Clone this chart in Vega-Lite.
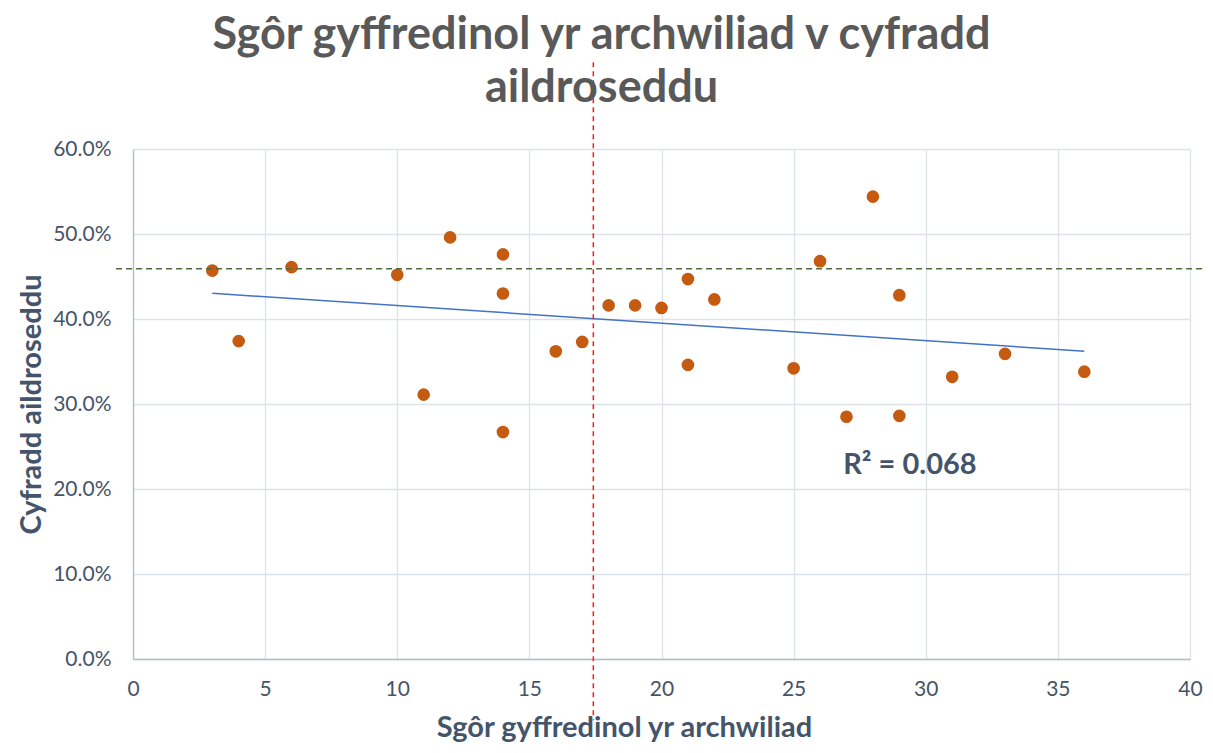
{
  "$schema": "https://vega.github.io/schema/vega-lite/v6.json",
  "width": 1057,
  "height": 510,
  "autosize": {"type": "none"},
  "padding": {"left": 133, "top": 149, "right": 23, "bottom": 94},
  "background": "white",
  "config": {
    "font": "Lato",
    "view": {"stroke": null}
  },
  "title": {
    "text": ["Sgôr gyffredinol yr archwiliad v cyfradd", "aildroseddu"],
    "fontSize": 45,
    "fontWeight": "bold",
    "color": "#595959",
    "lineHeight": 53,
    "anchor": "middle",
    "frame": "group",
    "dx": -60,
    "offset": -49
  },
  "data": {
    "values": [
      {"score": 3, "rate": 0.457},
      {"score": 4, "rate": 0.374},
      {"score": 6, "rate": 0.461},
      {"score": 10, "rate": 0.452},
      {"score": 11, "rate": 0.311},
      {"score": 12, "rate": 0.496},
      {"score": 14, "rate": 0.476},
      {"score": 14, "rate": 0.430},
      {"score": 14, "rate": 0.267},
      {"score": 16, "rate": 0.362},
      {"score": 17, "rate": 0.373},
      {"score": 18, "rate": 0.416},
      {"score": 19, "rate": 0.416},
      {"score": 20, "rate": 0.413},
      {"score": 21, "rate": 0.447},
      {"score": 21, "rate": 0.346},
      {"score": 22, "rate": 0.423},
      {"score": 25, "rate": 0.342},
      {"score": 26, "rate": 0.468},
      {"score": 27, "rate": 0.285},
      {"score": 28, "rate": 0.544},
      {"score": 29, "rate": 0.428},
      {"score": 29, "rate": 0.286},
      {"score": 31, "rate": 0.332},
      {"score": 33, "rate": 0.359},
      {"score": 36, "rate": 0.338}
    ]
  },
  "layer": [
    {
      "mark": {"type": "circle", "size": 160, "color": "#C55A11", "opacity": 1},
      "encoding": {
        "x": {
          "field": "score",
          "type": "quantitative",
          "scale": {"domain": [0, 40], "nice": false},
          "axis": {
            "values": [0, 5, 10, 15, 20, 25, 30, 35, 40],
            "title": "Sgôr gyffredinol yr archwiliad",
            "titleFontSize": 29,
            "titleFontWeight": "bold",
            "titleColor": "#44546A",
            "titlePadding": 14,
            "titleX": 491,
            "titleAlign": "center",
            "labelFontSize": 21,
            "labelColor": "#44546A",
            "labelPadding": 19,
            "labelFlush": false,
            "ticks": false,
            "grid": true,
            "gridColor": "#DDE1E8",
            "gridWidth": 1.3,
            "domainColor": "#B4BCCB",
            "domainWidth": 1.3
          }
        },
        "y": {
          "field": "rate",
          "type": "quantitative",
          "scale": {"domain": [0, 0.6], "nice": false},
          "axis": {
            "values": [0, 0.1, 0.2, 0.3, 0.4, 0.5, 0.6],
            "format": ".1%",
            "title": "Cyfradd aildroseddu",
            "titleFontSize": 29,
            "titleFontWeight": "bold",
            "titleColor": "#44546A",
            "titlePadding": 6,
            "labelFontSize": 21,
            "labelColor": "#44546A",
            "labelPadding": 22,
            "labelFlush": false,
            "ticks": false,
            "grid": true,
            "gridColor": "#DDE1E8",
            "gridWidth": 1.3,
            "domainColor": "#B4BCCB",
            "domainWidth": 1.3
          }
        }
      }
    },
    {
      "transform": [
        {"regression": "rate", "on": "score", "extent": [3, 36]}
      ],
      "mark": {"type": "line", "color": "#4472C4", "strokeWidth": 1.5},
      "encoding": {
        "x": {"field": "score", "type": "quantitative"},
        "y": {"field": "rate", "type": "quantitative"}
      }
    },
    {
      "data": {"values": [{"line": "horizontal"}]},
      "mark": {"type": "rule", "color": "#4E6B3C", "strokeWidth": 1.5, "strokeDash": [6, 4]},
      "encoding": {
        "x": {"datum": -0.64},
        "x2": {"datum": 40.57},
        "y": {"datum": 0.459}
      }
    },
    {
      "data": {"values": [{"line": "vertical"}]},
      "mark": {"type": "rule", "color": "#FF1A1A", "strokeWidth": 1.5, "strokeDash": [5, 4]},
      "encoding": {
        "x": {"datum": 17.42},
        "y": {"datum": 0.702},
        "y2": {"datum": -0.072}
      }
    },
    {
      "data": {"values": [{"label": "R² = 0.068"}]},
      "mark": {"type": "text", "fontSize": 29, "fontWeight": "bold", "color": "#44546A", "align": "center", "baseline": "middle"},
      "encoding": {
        "x": {"datum": 29.4},
        "y": {"datum": 0.228},
        "text": {"field": "label"}
      }
    }
  ]
}
